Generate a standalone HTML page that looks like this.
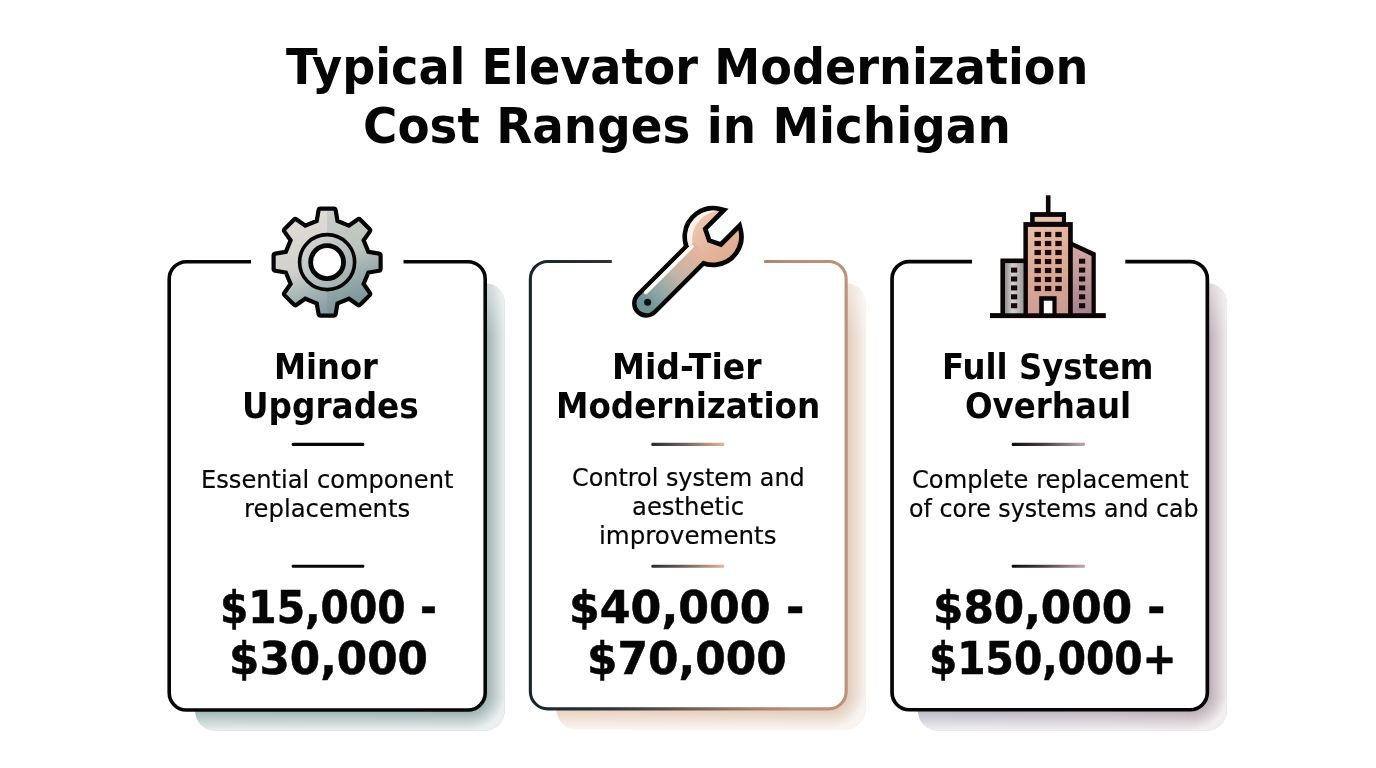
<!DOCTYPE html>
<html lang="en">
<head>
<meta charset="utf-8">
<title>Typical Elevator Modernization Cost Ranges in Michigan</title>
<style>
html,body{margin:0;padding:0;background:#fff}
body{width:1376px;height:768px;position:relative;overflow:hidden;color:#000}
svg.art{position:absolute;left:0;top:0}
h1,h2,p{margin:0;padding:0;font-size:0;line-height:0}
.ln{display:block;position:absolute;white-space:nowrap;line-height:1;transform-origin:0 0;color:#050505}
.t{font-family:"DejaVu Sans", "Liberation Sans", sans-serif;font-size:49.6px;font-weight:bold;}
.h{font-family:"DejaVu Sans", "Liberation Sans", sans-serif;font-size:35.3px;font-weight:bold;}
.d{font-family:"DejaVu Sans", "Liberation Sans", sans-serif;font-size:24.2px;font-weight:normal;-webkit-text-stroke:0.18px #050505}
.p{font-family:"DejaVu Sans", "Liberation Sans", sans-serif;font-size:43.8px;font-weight:bold;-webkit-text-stroke:0.55px #050505}
</style>
</head>
<body>
<svg class="art" width="1376" height="768" viewBox="0 0 1376 768"><defs><linearGradient id="b2" gradientUnits="userSpaceOnUse" x1="529" y1="0" x2="848" y2="0"><stop offset="0" stop-color="#18252b"/><stop offset="0.25" stop-color="#2b3338"/><stop offset="0.45" stop-color="#5b5350"/><stop offset="0.65" stop-color="#977866"/><stop offset="0.82" stop-color="#b88e77"/><stop offset="1" stop-color="#bb9179"/></linearGradient><linearGradient id="dv2" gradientUnits="userSpaceOnUse" x1="651" y1="0" x2="725" y2="0"><stop offset="0" stop-color="#222c33"/><stop offset="0.45" stop-color="#6d625c"/><stop offset="1" stop-color="#e9b793"/></linearGradient><linearGradient id="dv3" gradientUnits="userSpaceOnUse" x1="1011" y1="0" x2="1085" y2="0"><stop offset="0" stop-color="#0a0a0a"/><stop offset="0.45" stop-color="#4a4044"/><stop offset="1" stop-color="#c4a4a8"/></linearGradient><linearGradient id="s1" gradientUnits="userSpaceOnUse" x1="195" y1="0" x2="505" y2="0"><stop offset="0" stop-color="#a3bbb8"/><stop offset="1" stop-color="#9fb4b2"/></linearGradient><linearGradient id="s2" gradientUnits="userSpaceOnUse" x1="556" y1="0" x2="866" y2="0"><stop offset="0" stop-color="#ecd3c1"/><stop offset="1" stop-color="#e2ccbc"/></linearGradient><linearGradient id="s3" gradientUnits="userSpaceOnUse" x1="916" y1="0" x2="1228" y2="0"><stop offset="0" stop-color="#bdbcc6"/><stop offset="0.6" stop-color="#c0b8c0"/><stop offset="1" stop-color="#bdaeb4"/></linearGradient><clipPath id="cs1"><rect x="195" y="283.2" width="309.7" height="447.4" rx="20" ry="20"/></clipPath><linearGradient id="fr1" gradientUnits="userSpaceOnUse" x1="487" y1="0" x2="505.5" y2="0"><stop offset="0" stop-color="#fff" stop-opacity="0"/><stop offset="1" stop-color="#fff" stop-opacity="0.8"/></linearGradient><linearGradient id="fb1" gradientUnits="userSpaceOnUse" x1="0" y1="711.8" x2="0" y2="730.8"><stop offset="0" stop-color="#fff" stop-opacity="0"/><stop offset="1" stop-color="#fff" stop-opacity="0.8"/></linearGradient><radialGradient id="fc1" gradientUnits="userSpaceOnUse" cx="468" cy="692.8" r="37.7"><stop offset="0.5" stop-color="#fff" stop-opacity="0"/><stop offset="1" stop-color="#fff" stop-opacity="0.8"/></radialGradient><clipPath id="cs2"><rect x="556.4" y="283.2" width="309" height="446" rx="20" ry="20"/></clipPath><linearGradient id="fr2" gradientUnits="userSpaceOnUse" x1="847.7" y1="0" x2="866.2" y2="0"><stop offset="0" stop-color="#fff" stop-opacity="0"/><stop offset="1" stop-color="#fff" stop-opacity="0.8"/></linearGradient><linearGradient id="fb2" gradientUnits="userSpaceOnUse" x1="0" y1="710.4" x2="0" y2="729.4"><stop offset="0" stop-color="#fff" stop-opacity="0"/><stop offset="1" stop-color="#fff" stop-opacity="0.8"/></linearGradient><radialGradient id="fc2" gradientUnits="userSpaceOnUse" cx="828.7" cy="691.4" r="37.7"><stop offset="0.5" stop-color="#fff" stop-opacity="0"/><stop offset="1" stop-color="#fff" stop-opacity="0.8"/></radialGradient><clipPath id="cs3"><rect x="917.8" y="283.2" width="309.1" height="447.2" rx="20" ry="20"/></clipPath><linearGradient id="fr3" gradientUnits="userSpaceOnUse" x1="1209.2" y1="0" x2="1227.7" y2="0"><stop offset="0" stop-color="#fff" stop-opacity="0"/><stop offset="1" stop-color="#fff" stop-opacity="0.8"/></linearGradient><linearGradient id="fb3" gradientUnits="userSpaceOnUse" x1="0" y1="711.6" x2="0" y2="730.6"><stop offset="0" stop-color="#fff" stop-opacity="0"/><stop offset="1" stop-color="#fff" stop-opacity="0.8"/></linearGradient><radialGradient id="fc3" gradientUnits="userSpaceOnUse" cx="1190.2" cy="692.6" r="37.7"><stop offset="0.5" stop-color="#fff" stop-opacity="0"/><stop offset="1" stop-color="#fff" stop-opacity="0.8"/></radialGradient><linearGradient id="ft" gradientUnits="userSpaceOnUse" x1="0" y1="283" x2="0" y2="335"><stop offset="0" stop-color="#fff" stop-opacity="0.5"/><stop offset="1" stop-color="#fff" stop-opacity="0"/></linearGradient><linearGradient id="gg" gradientUnits="userSpaceOnUse" x1="305" y1="208" x2="345" y2="316"><stop offset="0" stop-color="#e3dfd7"/><stop offset="0.5" stop-color="#cfd0ca"/><stop offset="0.72" stop-color="#a3b3b4"/><stop offset="1" stop-color="#76929c"/></linearGradient><linearGradient id="gr" gradientUnits="userSpaceOnUse" x1="305" y1="238" x2="350" y2="288"><stop offset="0" stop-color="#d6d6d6"/><stop offset="1" stop-color="#9fabab"/></linearGradient><linearGradient id="wh" gradientUnits="userSpaceOnUse" x1="646" y1="304" x2="713" y2="236"><stop offset="0" stop-color="#6f9497"/><stop offset="0.18" stop-color="#8fa7a6"/><stop offset="0.45" stop-color="#c4b5a8"/><stop offset="0.75" stop-color="#e2b59c"/><stop offset="1" stop-color="#e6b89e"/></linearGradient><linearGradient id="wk" gradientUnits="userSpaceOnUse" x1="690" y1="214" x2="735" y2="260"><stop offset="0" stop-color="#f1cdb8"/><stop offset="0.5" stop-color="#e7b9a0"/><stop offset="1" stop-color="#dba98f"/></linearGradient><linearGradient id="bm" gradientUnits="userSpaceOnUse" x1="1030" y1="226" x2="1066" y2="313"><stop offset="0" stop-color="#e8bda8"/><stop offset="0.55" stop-color="#dba894"/><stop offset="1" stop-color="#c79a92"/></linearGradient><linearGradient id="bl" gradientUnits="userSpaceOnUse" x1="1005" y1="0" x2="1024" y2="0"><stop offset="0" stop-color="#8f8f8f"/><stop offset="0.4" stop-color="#d2d2d2"/><stop offset="1" stop-color="#9a9a9a"/></linearGradient><linearGradient id="br" gradientUnits="userSpaceOnUse" x1="1073" y1="247" x2="1092" y2="313"><stop offset="0" stop-color="#d2a9a6"/><stop offset="1" stop-color="#a4818c"/></linearGradient></defs>
<g clip-path="url(#cs1)"><rect x="187.4" y="275" width="329.6" height="461.8" fill="url(#s1)"/><g shape-rendering="crispEdges"><rect x="468" y="275" width="43" height="418" fill="url(#fr1)"/><rect x="187.4" y="693" width="280.6" height="42.8" fill="url(#fb1)"/><rect x="468" y="693" width="44" height="44" fill="url(#fc1)"/></g><rect x="468" y="280" width="44" height="60" fill="url(#ft)"/></g>
<g clip-path="url(#cs2)"><rect x="548.8" y="275" width="328.9" height="460.4" fill="url(#s2)"/><g shape-rendering="crispEdges"><rect x="829" y="275" width="42.7" height="416" fill="url(#fr2)"/><rect x="548.8" y="691" width="280.2" height="43.4" fill="url(#fb2)"/><rect x="829" y="691" width="44" height="44" fill="url(#fc2)"/></g><rect x="829" y="280" width="44" height="60" fill="url(#ft)"/></g>
<g clip-path="url(#cs3)"><rect x="910.2" y="275" width="329" height="461.6" fill="url(#s3)"/><g shape-rendering="crispEdges"><rect x="1190" y="275" width="43.2" height="418" fill="url(#fr3)"/><rect x="910.2" y="693" width="279.8" height="42.6" fill="url(#fb3)"/><rect x="1190" y="693" width="44" height="44" fill="url(#fc3)"/></g><rect x="1190" y="280" width="44" height="60" fill="url(#ft)"/></g>
<rect x="169.2" y="261.8" width="316" height="448.2" rx="17.2" fill="#fff"/><path d="M403.5 261.8H468A17.2 17.2 0 0 1 485.2 279V692.8A17.2 17.2 0 0 1 468 710H186.4A17.2 17.2 0 0 1 169.2 692.8V279A17.2 17.2 0 0 1 186.4 261.8H251" fill="none" stroke="#060606" stroke-width="3.6"/>
<rect x="530.35" y="261.55" width="315.8" height="447.3" rx="17.45" fill="#fff"/><path d="M764.2 261.55H828.7A17.45 17.45 0 0 1 846.15 279V691.4A17.45 17.45 0 0 1 828.7 708.85H547.8A17.45 17.45 0 0 1 530.35 691.4V279A17.45 17.45 0 0 1 547.8 261.55H611.8" fill="none" stroke="url(#b2)" stroke-width="3.1"/>
<rect x="892.05" y="261.65" width="315.3" height="448.1" rx="17.15" fill="#fff"/><path d="M1125.3 261.65H1190.2A17.15 17.15 0 0 1 1207.35 278.8V692.6A17.15 17.15 0 0 1 1190.2 709.75H909.2A17.15 17.15 0 0 1 892.05 692.6V278.8A17.15 17.15 0 0 1 909.2 261.65H972" fill="none" stroke="#060606" stroke-width="3.7"/>
<rect x="291.7" y="442.8" width="72.6" height="3.2" rx="1.2" fill="#060606"/><rect x="291.7" y="564.8" width="72.6" height="3" rx="1.2" fill="#060606"/><rect x="651.3" y="442.8" width="73.1" height="3.2" rx="1.2" fill="url(#dv2)"/><rect x="651.3" y="564.8" width="73.1" height="3" rx="1.2" fill="url(#dv2)"/><rect x="1011.7" y="442.8" width="73.3" height="3.2" rx="1.2" fill="url(#dv3)"/><rect x="1011.7" y="564.8" width="73.3" height="3" rx="1.2" fill="url(#dv3)"/>
<g id="gear"><path d="M318.6 222.4L320.6 210.75L333.6 210.75L335.6 222.4L349.2 228.03L358.85 221.21L368.04 230.4L361.22 240.05L366.85 253.65L378.5 255.65L378.5 268.65L366.85 270.65L361.22 284.25L368.04 293.9L358.85 303.09L349.2 296.27L335.6 301.9L333.6 313.55L320.6 313.55L318.6 301.9L305 296.27L295.35 303.09L286.16 293.9L292.98 284.25L287.35 270.65L275.7 268.65L275.7 255.65L287.35 253.65L292.98 240.05L286.16 230.4L295.35 221.21L305 228.03Z" fill="#060606" stroke="#060606" stroke-width="8.4" stroke-linejoin="round"/><path d="M318.6 222.4L320.6 210.75L333.6 210.75L335.6 222.4L349.2 228.03L358.85 221.21L368.04 230.4L361.22 240.05L366.85 253.65L378.5 255.65L378.5 268.65L366.85 270.65L361.22 284.25L368.04 293.9L358.85 303.09L349.2 296.27L335.6 301.9L333.6 313.55L320.6 313.55L318.6 301.9L305 296.27L295.35 303.09L286.16 293.9L292.98 284.25L287.35 270.65L275.7 268.65L275.7 255.65L287.35 253.65L292.98 240.05L286.16 230.4L295.35 221.21L305 228.03Z" fill="url(#gg)"/><clipPath id="gc"><path d="M318.6 222.4L320.6 210.75L333.6 210.75L335.6 222.4L349.2 228.03L358.85 221.21L368.04 230.4L361.22 240.05L366.85 253.65L378.5 255.65L378.5 268.65L366.85 270.65L361.22 284.25L368.04 293.9L358.85 303.09L349.2 296.27L335.6 301.9L333.6 313.55L320.6 313.55L318.6 301.9L305 296.27L295.35 303.09L286.16 293.9L292.98 284.25L287.35 270.65L275.7 268.65L275.7 255.65L287.35 253.65L292.98 240.05L286.16 230.4L295.35 221.21L305 228.03Z"/></clipPath><rect x="327.1" y="200" width="60" height="125" fill="#5f7f7a" fill-opacity="0.16" clip-path="url(#gc)"/><circle cx="327.1" cy="262.15" r="27.5" fill="url(#gr)" stroke="#060606" stroke-width="3.6"/><circle cx="327.1" cy="262.15" r="16.45" fill="#fff" stroke="#060606" stroke-width="4.8"/></g>
<g id="wrench"><path d="M693.37 242.33L639.28 296.42A9.9 9.9 0 0 0 653.28 310.42L707.37 256.33Z" fill="#060606" stroke="#060606" stroke-width="8.8" stroke-linejoin="round"/><path d="M738.33 230.32A26 26 0 1 1 719.38 211.37L702.56 228.19L707.37 242.33L721.51 247.14Z" fill="#060606" stroke="#060606" stroke-width="9.4" stroke-linejoin="miter" stroke-miterlimit="6"/><path d="M738.33 230.32A26 26 0 1 1 719.38 211.37L702.56 228.19L707.37 242.33L721.51 247.14Z" fill="url(#wk)"/><clipPath id="wc"><path d="M738.33 230.32A26 26 0 1 1 719.38 211.37L702.56 228.19L707.37 242.33L721.51 247.14Z"/></clipPath><path clip-path="url(#wc)" fill-rule="evenodd" fill="#fdf5f0" fill-opacity="0.92" d="M663.1 186.6h100v100h-100ZM692.2 239.3a28.5 28.5 0 1 0 57 0a28.5 28.5 0 1 0 -57 0Z"/><path d="M693.37 242.33L639.28 296.42A9.9 9.9 0 0 0 653.28 310.42L707.37 256.33Z" fill="url(#wh)"/><path d="M645.92 292.46L691.89 246.5" stroke="#fff" stroke-opacity="0.92" stroke-width="3.8" stroke-linecap="round"/><circle cx="647.62" cy="302.22" r="3.5" fill="#0a1214"/></g>
<g id="building"><rect x="990" y="313.1" width="115.8" height="5" fill="#0b0605"/><rect x="1045.9" y="195.3" width="4.6" height="18" fill="#0b0605"/><rect x="1030.1" y="212.1" width="35.9" height="12" fill="#0b0605"/><rect x="1023.4" y="222.1" width="49.4" height="92" fill="#0b0605"/><rect x="1000.4" y="258.5" width="24" height="56" fill="#0b0605"/><path d="M1072 241.8L1095.8 252.7V314H1072Z" fill="#0b0605"/><rect x="1034.7" y="216.9" width="27.2" height="4.9" fill="#ebc4b0"/><rect x="1027.9" y="226.9" width="40.2" height="86.4" fill="url(#bm)"/><rect x="1005" y="263.1" width="18.5" height="50.2" fill="url(#bl)"/><path d="M1072.8 247L1091.5 256V313.3H1072.8Z" fill="url(#br)"/><rect x="1034.5" y="231.9" width="6.4" height="5.2" fill="#1a0907"/><rect x="1034.5" y="240.9" width="6.4" height="5.2" fill="#1a0907"/><rect x="1034.5" y="249.9" width="6.4" height="5.2" fill="#1a0907"/><rect x="1034.5" y="258.9" width="6.4" height="5.2" fill="#1a0907"/><rect x="1034.5" y="267.9" width="6.4" height="5.2" fill="#1a0907"/><rect x="1034.5" y="276.9" width="6.4" height="5.2" fill="#1a0907"/><rect x="1034.5" y="285.9" width="6.4" height="5.2" fill="#1a0907"/><rect x="1044.9" y="231.9" width="6.4" height="5.2" fill="#1a0907"/><rect x="1044.9" y="240.9" width="6.4" height="5.2" fill="#1a0907"/><rect x="1044.9" y="249.9" width="6.4" height="5.2" fill="#1a0907"/><rect x="1044.9" y="258.9" width="6.4" height="5.2" fill="#1a0907"/><rect x="1044.9" y="267.9" width="6.4" height="5.2" fill="#1a0907"/><rect x="1044.9" y="276.9" width="6.4" height="5.2" fill="#1a0907"/><rect x="1044.9" y="285.9" width="6.4" height="5.2" fill="#1a0907"/><rect x="1055.3" y="231.9" width="6.4" height="5.2" fill="#1a0907"/><rect x="1055.3" y="240.9" width="6.4" height="5.2" fill="#1a0907"/><rect x="1055.3" y="249.9" width="6.4" height="5.2" fill="#1a0907"/><rect x="1055.3" y="258.9" width="6.4" height="5.2" fill="#1a0907"/><rect x="1055.3" y="267.9" width="6.4" height="5.2" fill="#1a0907"/><rect x="1055.3" y="276.9" width="6.4" height="5.2" fill="#1a0907"/><rect x="1055.3" y="285.9" width="6.4" height="5.2" fill="#1a0907"/><rect x="1011" y="267.6" width="6.2" height="5" fill="#1a0907"/><rect x="1011" y="276.5" width="6.2" height="5" fill="#1a0907"/><rect x="1011" y="285.4" width="6.2" height="5" fill="#1a0907"/><rect x="1011" y="294.3" width="6.2" height="5" fill="#1a0907"/><rect x="1011" y="303.2" width="6.2" height="5" fill="#1a0907"/><rect x="1079" y="258.7" width="6.2" height="5" fill="#1a0907"/><rect x="1079" y="267.6" width="6.2" height="5" fill="#1a0907"/><rect x="1079" y="276.5" width="6.2" height="5" fill="#1a0907"/><rect x="1079" y="285.4" width="6.2" height="5" fill="#1a0907"/><rect x="1079" y="294.3" width="6.2" height="5" fill="#1a0907"/><rect x="1079" y="303.2" width="6.2" height="5" fill="#1a0907"/><rect x="1039.2" y="296.2" width="17.4" height="18" fill="#0b0605"/><rect x="1043.8" y="300.7" width="8.6" height="12.6" fill="#fff"/></g>
</svg>
<h1><span class="ln t" style="left:286.20px;top:43.30px;transform:scaleX(0.9315)">Typical Elevator Modernization</span> <span class="ln t" style="left:362.97px;top:102.45px;transform:scaleX(0.9446)">Cost Ranges in Michigan</span></h1>
<section class="card">
<h2><span class="ln h" style="left:274.11px;top:349.20px;transform:scaleX(0.9122)">Minor</span> <span class="ln h" style="left:241.57px;top:388.45px;transform:scaleX(0.9274)">Upgrades</span></h2>
<p class="desc"><span class="ln d" style="left:200.60px;top:467.90px;transform:scaleX(0.9980)">Essential component</span> <span class="ln d" style="left:244.34px;top:496.90px;transform:scaleX(1.0062)">replacements</span></p>
<p class="price"><span class="ln p" style="left:219.81px;top:586.40px;transform:scaleX(0.9309)">$15,000 -</span> <span class="ln p" style="left:228.86px;top:636.90px;transform:scaleX(0.9974)">$30,000</span></p>
</section>
<section class="card">
<h2><span class="ln h" style="left:612.29px;top:349.20px;transform:scaleX(0.9375)">Mid-Tier</span> <span class="ln h" style="left:555.83px;top:388.45px;transform:scaleX(0.9241)">Modernization</span></h2>
<p class="desc"><span class="ln d" style="left:571.61px;top:466.00px;transform:scaleX(0.9871)">Control system and</span> <span class="ln d" style="left:632.10px;top:494.70px;transform:scaleX(1.0046)">aesthetic</span> <span class="ln d" style="left:598.57px;top:524.00px;transform:scaleX(1.0145)">improvements</span></p>
<p class="price"><span class="ln p" style="left:568.82px;top:586.40px;transform:scaleX(1.0110)">$40,000 -</span> <span class="ln p" style="left:586.85px;top:636.90px;transform:scaleX(1.0013)">$70,000</span></p>
</section>
<section class="card">
<h2><span class="ln h" style="left:941.85px;top:349.20px;transform:scaleX(0.9156)">Full System</span> <span class="ln h" style="left:964.51px;top:388.45px;transform:scaleX(0.9205)">Overhaul</span></h2>
<p class="desc"><span class="ln d" style="left:911.60px;top:467.50px;transform:scaleX(0.9991)">Complete replacement</span> <span class="ln d" style="left:908.62px;top:496.60px;transform:scaleX(0.9802)">of core systems and cab</span></p>
<p class="price"><span class="ln p" style="left:933.36px;top:586.40px;transform:scaleX(0.9978)">$80,000 -</span> <span class="ln p" style="left:929.31px;top:636.90px;transform:scaleX(0.9286)">$150,000+</span></p>
</section>
</body>
</html>
